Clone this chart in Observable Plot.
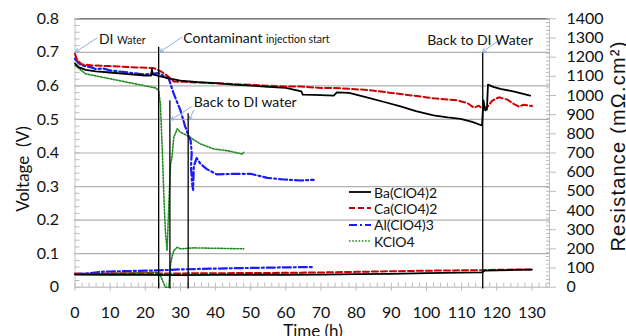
<!DOCTYPE html>
<html><head><meta charset="utf-8">
<script src="https://cdn.jsdelivr.net/npm/d3@7"></script>
<script src="https://cdn.jsdelivr.net/npm/@observablehq/plot@0.6"></script>
<style>
body{margin:0;background:#fff;}
#wrap{position:relative;width:626px;height:336px;overflow:hidden;font-family:Lato,sans-serif;}
#legend{position:absolute;left:348px;top:184px;font:14px Lato,sans-serif;color:#111;}
#legend div{height:16.3px;display:flex;align-items:center;white-space:nowrap;}
#legend svg{margin-right:2px;}
</style></head><body><div id="wrap"></div>
<script>
// ---- data ----
const seriesNames = ["Ba(ClO4)2", "Ca(ClO4)2", "Al(ClO4)3", "KClO4"];
// voltage curves [time h, V]
const baVoltage = [[0,0.667],[1,0.656],[3,0.648],[6,0.643],[10,0.640],[15,0.635],[20,0.631],[21.7,0.631],[21.9,0.651],[22.1,0.634],[24,0.629],[27,0.622],[30,0.616],[35,0.611],[40,0.608],[45,0.604],[50,0.601],[55,0.597],[60,0.594],[64.4,0.584],[64.8,0.574],[68,0.573],[73.6,0.571],[74.5,0.581],[78,0.579],[83,0.566],[88,0.552],[92.6,0.539],[97,0.525],[102,0.512],[106,0.506],[109.7,0.502],[113,0.493],[115.8,0.482],[116.2,0.557],[116.7,0.527],[117.2,0.530],[117.5,0.604],[119,0.597],[121,0.591],[125,0.583],[129.5,0.571]];
const caVoltage = [[0,0.696],[0.6,0.676],[2,0.664],[5,0.661],[10,0.659],[16,0.656],[22.4,0.653],[24.5,0.643],[26.2,0.631],[28.1,0.613],[31,0.612],[35,0.610],[40,0.608],[50,0.603],[60,0.598],[64.2,0.598],[69.8,0.594],[73.6,0.594],[83.1,0.588],[92.6,0.576],[102.1,0.563],[108.7,0.557],[111.6,0.549],[113.5,0.535],[114.9,0.541],[115.8,0.532],[117.3,0.537],[118.7,0.556],[120.6,0.566],[123,0.559],[124.9,0.546],[126.3,0.538],[127.7,0.544],[130,0.540]];
const alVoltage = [[0,0.681],[1,0.668],[2,0.661],[4.4,0.656],[6,0.650],[8,0.652],[10,0.646],[15,0.640],[20,0.634],[23.8,0.638],[26.7,0.621],[28.1,0.576],[30,0.527],[31.4,0.477],[32.9,0.437],[33.2,0.40],[33.0,0.36],[33.3,0.31],[33.6,0.29],[33.8,0.36],[34.6,0.385],[35.7,0.368],[37.5,0.352],[40.4,0.336],[45.2,0.338],[49.9,0.338],[54.7,0.326],[59.4,0.321],[64.1,0.318],[67.9,0.320]];
const kVoltage = [[0,0.661],[3,0.636],[10.1,0.621],[17.2,0.606],[22.9,0.594],[23.8,0.586],[24.3,0.546],[24.8,0.417],[25.3,0.268],[25.7,0.169],[26.2,0.109],[26.7,0.248],[27.2,0.368],[27.6,0.388],[28.1,0.447],[29.1,0.472],[30,0.462],[31.9,0.452],[35.7,0.427],[39.5,0.412],[43.3,0.407],[47.6,0.397],[48,0.402]];
// resistance curves [time h, mΩ.cm²]
const baResistance = [[0,66],[10,65],[20,64],[30,63],[40,64],[50,65],[60,65],[70,66],[80,68],[90,70],[100,73],[110,76],[115.8,77],[116.5,86],[120,88],[125,90],[130,92]];
const caResistance = [[0,70],[10,71],[20,72],[30,72],[40,73],[50,74],[60,75],[70,77],[80,80],[90,83],[100,86],[110,88],[116,89],[120,91],[125,92],[130,93]];
const alResistance = [[0,70],[4,72],[7,80],[10,82],[15,84],[20,86],[24,88],[27,90],[30,93],[35,95],[45,99],[55,102],[62,104],[68,105]];
const kResistance = [[0,69],[10,72],[20,76],[23.4,78],[24.3,61],[25.7,0],[26.7,0],[27.2,122],[27.6,158],[28.1,191],[29.1,208],[30,200],[33.8,205],[40,203],[48,200]];
// event markers
const eventTimes = [23.8, 27.0, 32.2, 116.0];
const eventTops = [0.715, 0.556, 0.517, 0.700];
// annotations
const noteTexts = ["DI|Water", "Contaminant|injection start", "Back to DI water", "Back to DI Water"];
const noteT = [6.8, 30.8, 33.8, 100.2];
const noteV = [0.739, 0.740, 0.549, 0.734];
const arrowFrom = [[6.3,0.743],[30.4,0.745],[33.3,0.539],[33.7,0.527],[121.9,0.745]];
const arrowTo = [[0,0.700],[24.0,0.700],[27.2,0.498],[32.6,0.499],[115.8,0.700]];
// axes
const timeTicks = d3.range(0, 131, 10);
const voltTicks = [0,0.1,0.2,0.3,0.4,0.5,0.6,0.7,0.8];
const resTicks = d3.range(0, 1401, 100);
const xLabel = "Time (h)", yLabel = "Voltage  (V)", y2Label = "Resistance (mΩ.cm²)";

// ---- build ----
const R2V = 0.8 / 1400;
const toRows = (arr, name) => arr.map(([t, v]) => ({t, v, name}));
const styles = [
  {stroke: "#000000", strokeWidth: 1.8, strokeDasharray: null},
  {stroke: "#cc0000", strokeWidth: 2, strokeDasharray: "6,3"},
  {stroke: "#1a1aff", strokeWidth: 2.2, strokeDasharray: "8,3,2,3"},
  {stroke: "#1e8c1e", strokeWidth: 1.6, strokeDasharray: "1.6,1.6"}
];
const volts = [baVoltage, caVoltage, alVoltage, kVoltage];
const ress = [baResistance, caResistance, alResistance, kResistance];
const events = eventTimes.map((t, i) => ({t, top: eventTops[i]}));
const notes = noteTexts.map((s, i) => ({s, t: noteT[i], v: noteV[i]}));
const arrows = arrowFrom.map((f, i) => ({x1: f[0], y1: f[1], x2: arrowTo[i][0], y2: arrowTo[i][1]}));

const lineMarks = [];
[3, 2, 1, 0].forEach(i => {
  const st = styles[i];
  const o = {x: "t", stroke: st.stroke, strokeWidth: st.strokeWidth};
  if (st.strokeDasharray) o.strokeDasharray = st.strokeDasharray;
  lineMarks.push(Plot.line(toRows(volts[i], seriesNames[i]), {...o, y: "v"}));
  lineMarks.push(Plot.line(toRows(ress[i], seriesNames[i]), {...o, y: d => d.v * R2V}));
});

const svg = Plot.plot({
  width: 626, height: 336,
  marginLeft: 74.5, marginRight: 77, marginTop: 18.3, marginBottom: 49.3,
  style: {fontFamily: "Lato, sans-serif", fontSize: "16px", color: "#111", background: "#fff"},
  x: {domain: [0, 135]},
  y: {domain: [0, 0.8]},
  marks: [
    Plot.ruleY(voltTicks.slice(1, -1), {stroke: "#b0b0b0", strokeWidth: 1.2}),
    Plot.ruleY([0.8], {stroke: "#555", strokeWidth: 1.2}),
    Plot.ruleY([0], {stroke: "#b0b0b0"}),
    Plot.ruleX([0, 135], {stroke: "#c0c0c0"}),
    Plot.axisY({ticks: d3.range(0, 0.801, 0.02), tickSize: -5, text: null, label: null, stroke: "#bbb"}),
    Plot.axisY({ticks: voltTicks, tickSize: 0, tickPadding: 16, tickFormat: d => d === 0 ? "0" : d.toFixed(1), label: null}),
    Plot.axisY({anchor: "right", ticks: d3.range(0, 1401, 20).map(r => r * R2V), tickSize: -4, text: null, label: null, stroke: "#bbb"}),
    Plot.axisY({anchor: "right", ticks: resTicks.map(r => r * R2V), tickSize: 6, text: null, label: null, stroke: "#bbb"}),
    Plot.axisY({anchor: "right", ticks: resTicks.map(r => r * R2V), tickSize: 0, tickPadding: 17, tickFormat: d => String(Math.round(d / R2V)), label: null}),
    Plot.axisX({ticks: d3.range(0, 135, 2), tickSize: -4, text: null, label: null, stroke: "#bbb"}),
    Plot.axisX({ticks: timeTicks, tickSize: 4, text: null, label: null, stroke: "#bbb"}),
    Plot.axisX({ticks: timeTicks, tickSize: 0, tickPadding: 19, label: null}),
    ...lineMarks,
    Plot.ruleX(events, {x: "t", y1: -0.005, y2: "top", stroke: "#000", strokeWidth: 1.3}),
    Plot.arrow(arrows, {x1: "x1", y1: "y1", x2: "x2", y2: "y2", stroke: "#8db3e2", strokeWidth: 1, headLength: 7, headAngle: 50}),
    Plot.text(notes, {x: "t", y: "v", text: "s", textAnchor: "start", lineAnchor: "middle", fontSize: 14, fill: "#111"})
  ]
});

// mixed-size annotation text
d3.select(svg).selectAll("text").each(function () {
  const s = this.textContent;
  if (s.includes("|")) {
    const [a, b] = s.split("|");
    const sel = d3.select(this);
    sel.text("");
    sel.append("tspan").text(a + " ");
    sel.append("tspan").attr("font-size", 10.5).text(b);
  }
});
// axis titles
const g = d3.select(svg).append("g").attr("fill", "#111");
g.append("text").attr("transform", "translate(29,169) rotate(-90)").attr("text-anchor", "middle")
  .attr("font-family", "Lato, sans-serif").attr("font-size", 17).text(yLabel);
g.append("text").attr("x", 313).attr("y", 336.5).attr("text-anchor", "middle")
  .attr("font-family", "Lato, sans-serif").attr("font-size", 17).text(xLabel);
g.append("text").attr("transform", "translate(625,146) rotate(-90)").attr("text-anchor", "middle")
  .attr("font-family", "'Liberation Sans', Arial, sans-serif").attr("font-size", 20).attr("letter-spacing", 1.2).text(y2Label);

const wrap = document.getElementById("wrap");
wrap.appendChild(svg);

// legend
const leg = document.createElement("div");
leg.id = "legend";
seriesNames.forEach((n, i) => {
  const st = styles[i];
  const row = document.createElement("div");
  row.innerHTML = `<svg width="24" height="8"><line x1="1" y1="4" x2="23" y2="4" stroke="${st.stroke}" stroke-width="${st.strokeWidth}" ${st.strokeDasharray ? `stroke-dasharray="${st.strokeDasharray}"` : ""}/></svg><span>${n}</span>`;
  leg.appendChild(row);
});
wrap.appendChild(leg);
</script></body></html>
